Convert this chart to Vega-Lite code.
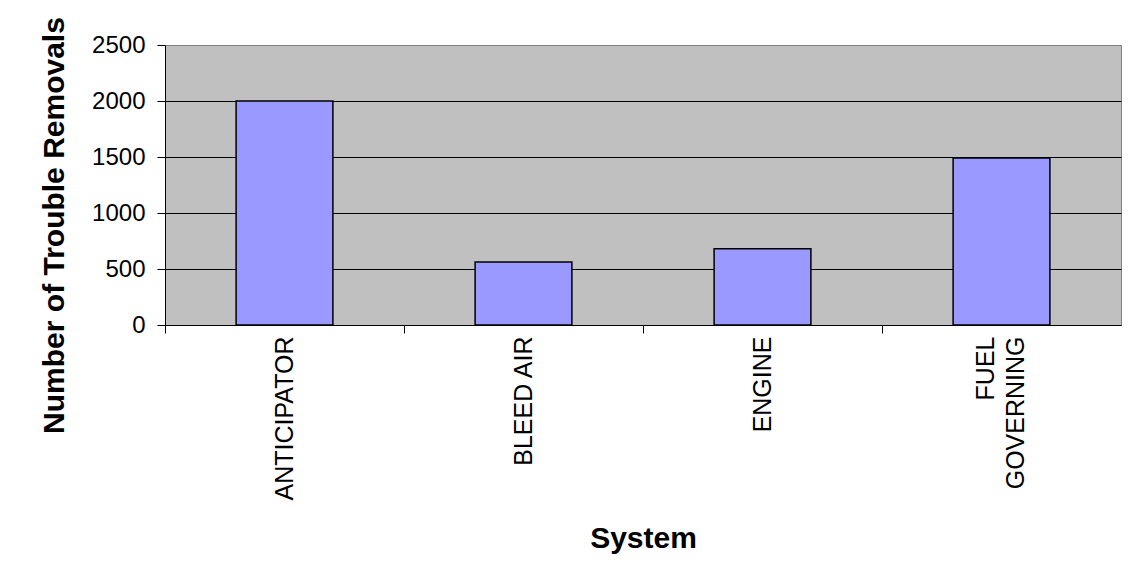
{
  "$schema": "https://vega.github.io/schema/vega-lite/v6.json",
  "width": 956,
  "height": 280,
  "autosize": {"type": "none"},
  "padding": {"left": 165, "top": 45, "right": 9, "bottom": 256},
  "background": "white",
  "config": {
    "view": {"fill": "#C0C0C0", "stroke": "#808080", "strokeWidth": 1},
    "font": "Liberation Sans"
  },
  "data": {
    "values": [
      {"System": "ANTICIPATOR", "Removals": 2000},
      {"System": "BLEED AIR", "Removals": 563},
      {"System": "ENGINE", "Removals": 681},
      {"System": "FUEL GOVERNING", "Removals": 1490}
    ]
  },
  "mark": {"type": "bar", "color": "#9999FF", "stroke": "#000000", "strokeWidth": 1.5, "width": {"band": 0.405}},
  "encoding": {
    "x": {
      "field": "System",
      "type": "nominal",
      "sort": null,
      "scale": {"paddingInner": 0, "paddingOuter": 0},
      "axis": {
        "title": "System",
        "titleFont": "Liberation Sans",
        "titleFontSize": 30,
        "titleFontWeight": "bold",
        "titleColor": "#000000",
        "titleBaseline": "alphabetic",
        "titleY": 222,
        "labelAngle": 270,
        "labelFont": "Liberation Sans",
        "labelFontSize": 25,
        "labelColor": "#000000",
        "labelPadding": 3,
        "labelLineHeight": 30,
        "labelLimit": 0,
        "labelExpr": "datum.value == 'FUEL GOVERNING' ? ['FUEL', 'GOVERNING'] : datum.value",
        "tickSize": 8,
        "tickColor": "#000000",
        "domainColor": "#000000",
        "bandPosition": 0.5,
        "tickOffset": -119.5,
        "labelOffset": {"condition": {"test": "datum.value == 'FUEL GOVERNING'", "value": 103}, "value": 119.5}
      }
    },
    "y": {
      "field": "Removals",
      "type": "quantitative",
      "scale": {"domain": [0, 2500], "nice": false},
      "axis": {
        "values": [0, 500, 1000, 1500, 2000, 2500],
        "format": "d",
        "title": "Number of Trouble Removals",
        "titleFont": "Liberation Sans",
        "titleFontSize": 30,
        "titleFontWeight": "bold",
        "titleColor": "#000000",
        "titleAngle": 270,
        "titleAlign": "center",
        "titleBaseline": "middle",
        "titleX": -111,
        "titleY": 180,
        "labelFont": "Liberation Sans",
        "labelFontSize": 24,
        "labelColor": "#000000",
        "labelPadding": 12,
        "tickSize": 8,
        "tickColor": "#000000",
        "domainColor": "#000000",
        "grid": true,
        "gridColor": {"condition": {"test": "datum.value == 2500", "value": "#808080"}, "value": "#000000"},
        "gridOpacity": 1,
        "gridWidth": 1
      }
    }
  }
}
